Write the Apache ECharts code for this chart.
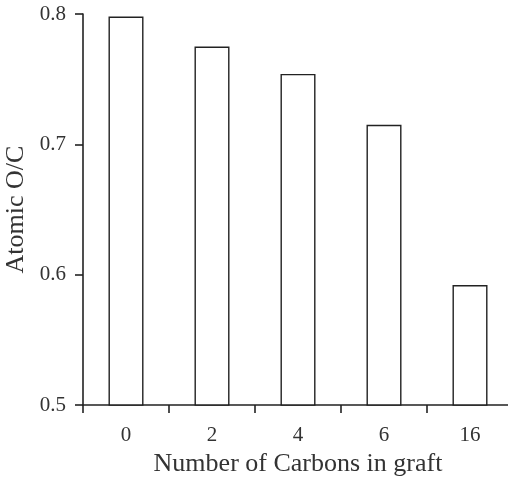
<!DOCTYPE html>
<html>
<head>
<meta charset="utf-8">
<script src="https://cdn.jsdelivr.net/npm/echarts@6/dist/echarts.min.js"></script>
<style>
  html, body { margin: 0; padding: 0; background: #fff; }
  #chart { width: 508px; height: 479px; }
</style>
</head>
<body>
<div id="chart"></div>
<script>
// carbons in the graft, and measured atomic O/C ratio
const carbons = ['0', '2', '4', '6', '16'];
const oxygenCarbon = [0.798, 0.775, 0.754, 0.715, 0.592];

const INK = '#222';
const FONT = "'Liberation Serif', 'DejaVu Serif', serif";

const chart = echarts.init(document.getElementById('chart'));
chart.setOption({
  animation: false,
  backgroundColor: '#fff',
  // grid runs past the right edge on purpose (last band is clipped in the original)
  grid: { left: 83, top: 14, width: 430, height: 391, outerBoundsMode: 'none', containLabel: false },
  xAxis: {
    type: 'category',
    data: carbons,
    boundaryGap: true,
    name: 'Number of Carbons in graft',
    nameLocation: 'middle',
    nameGap: 45,
    nameTextStyle: { fontFamily: FONT, fontSize: 26, color: '#333' },
    axisLine: { lineStyle: { color: INK, width: 1.6 } },
    axisTick: { show: true, alignWithLabel: false, interval: 0, length: 8, lineStyle: { color: INK, width: 1.6 } },
    axisLabel: { margin: 20, fontFamily: FONT, fontSize: 21, color: '#333' }
  },
  yAxis: {
    type: 'value',
    min: 0.5,
    max: 0.8,
    interval: 0.1,
    name: 'Atomic O/C',
    nameLocation: 'middle',
    nameGap: 54,
    nameTextStyle: { fontFamily: FONT, fontSize: 26, color: '#333' },
    axisLine: { show: true, lineStyle: { color: INK, width: 1.6 } },
    axisTick: { show: true, length: 8, lineStyle: { color: INK, width: 1.6 } },
    splitLine: { show: false },
    axisLabel: {
      margin: 17, fontFamily: FONT, fontSize: 21, color: '#333',
      formatter: v => v.toFixed(1)
    }
  },
  series: [{
    type: 'bar',
    data: oxygenCarbon,
    barWidth: 35,
    itemStyle: { color: '#fff', borderColor: INK, borderWidth: 1.4 }
  }]
});
</script>
</body>
</html>
